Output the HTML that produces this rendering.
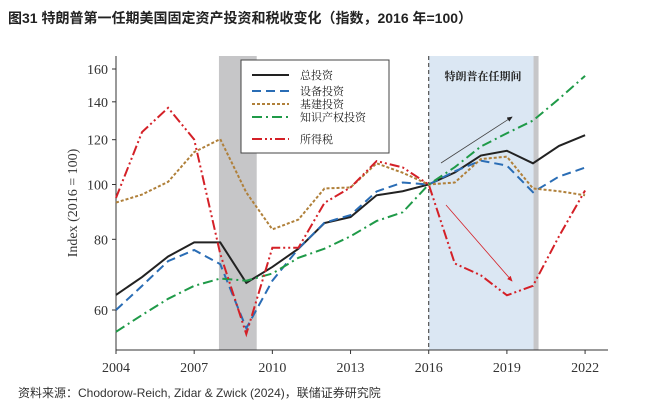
<!DOCTYPE html>
<html><head><meta charset="utf-8"><style>
body{margin:0;background:#fff;width:655px;height:411px;overflow:hidden;font-family:"Liberation Sans","Noto Sans CJK SC",sans-serif}
#title{position:absolute;left:8px;top:8px;font-size:14px;font-weight:bold;color:#222}
#src{position:absolute;left:18px;top:384px;font-size:12px;color:#333}
svg{position:absolute;left:0;top:0}
</style></head><body>
<div id="title">图31 特朗普第一任期美国固定资产投资和税收变化（指数，2016 年=100）</div>
<svg id="chart" width="655" height="411"></svg>
<div id="src">资料来源：Chodorow-Reich, Zidar &amp; Zwick (2024)，联储证券研究院</div>
<script>
const years=[2004,2005,2006,2007,2008,2009,2010,2011,2012,2013,2014,2015,2016,2017,2018,2019,2020,2021,2022];
const total=[63.8,68.6,74.6,79,79,67,71.5,77,85.5,87.6,95.7,97.3,100,105,112.5,114.7,109,117,122.2];
const equip=[60,66.2,73.2,76.6,72.3,55.7,67.6,77,85.6,88.3,97.2,100.8,100,105.5,110.2,108,96.9,103.3,107.1];
const infra=[92.9,96,101.1,114.1,120.3,96.8,83.3,86.7,98.4,98.8,109,104.9,100,100.8,110.9,112,98.4,97.3,95.7];
const ip=[54.9,58.8,62.8,66.2,68.2,67.6,69.6,74.2,77,81,86.2,89.3,100,107.3,116.7,123.2,129.7,141.7,155.6];
const tax=[94.7,123.8,136.6,120.1,75.4,54.4,77.3,77.3,92.8,98.8,110,107.2,100,72.5,69.1,63.7,66.2,81,97.6];
const yTicks=[60,80,100,120,140,160];
const xTicks=[2004,2007,2010,2013,2016,2019,2022];
const NS="http://www.w3.org/2000/svg",svg=document.getElementById('chart');
const X=y=>116+(y-2004)*26.06;
const Y=v=>310-Math.log(v/60)*245.7;
function el(t,a,p){const e=document.createElementNS(NS,t);for(const k in a)e.setAttribute(k,a[k]);(p||svg).appendChild(e);return e;}
let r=el('rect',{x:X(2007.95),y:56,width:X(2009.4)-X(2007.95),height:294,fill:'#c6c6c8'});

r=el('rect',{x:X(2016),y:56,width:X(2020.1)-X(2016),height:294,fill:'#dbe7f3'});

r=el('rect',{x:X(2020.1)-2,y:56,width:5,height:294,fill:'#c6c6c8'});

let l=el('line',{x1:X(2016),x2:X(2016),y1:56,y2:350,stroke:'#333','stroke-dasharray':'4,3','stroke-width':1});

let t=el('text',{x:483,y:80,'font-size':11,'text-anchor':'middle',fill:'#222','font-weight':'bold','font-family':'"Noto Serif CJK SC",serif'});t.textContent='特朗普在任期间';

// axes
l=el('line',{x1:116,x2:116,y1:56,y2:350,stroke:'#333'});
l=el('line',{x1:116,x2:608,y1:350,y2:350,stroke:'#333'});
yTicks.forEach(v=>{let tk=el('line',{x1:112,x2:116,y1:Y(v),y2:Y(v),stroke:'#333'});
let tx=el('text',{x:108,y:Y(v)+5,'font-size':14,'text-anchor':'end',fill:'#333','font-family':'"Liberation Serif",serif'});tx.textContent=v;});
xTicks.forEach(v=>{let tk=el('line',{x1:X(v),x2:X(v),y1:350,y2:354,stroke:'#333'});
let tx=el('text',{x:X(v),y:372,'font-size':14,'text-anchor':'middle',fill:'#333','font-family':'"Liberation Serif",serif'});tx.textContent=v;});
t=el('text',{x:0,y:0,'font-size':14,'text-anchor':'middle',fill:'#333','font-family':'"Liberation Serif",serif',transform:'translate(77,203) rotate(-90)'});t.textContent='Index (2016 = 100)';

const series=[[total,'#222','','total-investment-line'],[equip,'#2a6db5','9,5','equipment-investment-line'],[infra,'#b0803a','3,2','structures-investment-line'],[ip,'#1f9a48','10,4,2,4','ip-investment-line'],[tax,'#d42027','10,3,2,3,2,3','income-tax-line']];
series.forEach(s=>{let p=el('polyline',{points:years.map((y,i)=>X(y)+','+Y(s[0][i])).join(' '),fill:'none',stroke:s[1],'stroke-width':2,'stroke-dasharray':s[2]});
});
// arrows
el('defs',{}).innerHTML='<marker id="ab" markerWidth="8" markerHeight="8" refX="6" refY="3" orient="auto"><path d="M0,0L7,3L0,6z" fill="#222"/></marker><marker id="ar" markerWidth="8" markerHeight="8" refX="6" refY="3" orient="auto"><path d="M0,0L7,3L0,6z" fill="#d42027"/></marker>';
l=el('line',{x1:441,y1:163,x2:512,y2:117,stroke:'#444','stroke-width':0.8,'marker-end':'url(#ab)'});
l=el('line',{x1:446,y1:205,x2:512,y2:281,stroke:'#d42027','stroke-width':0.8,'marker-end':'url(#ar)'});
// legend
const lg=el('g',{});
el('rect',{x:241,y:60,width:148,height:93,fill:'#fff',stroke:'#444'},lg);
const names=['总投资','设备投资','基建投资','知识产权投资','所得税'];const ly=[75,91,104,117,139];
series.forEach((s,i)=>{const g=el('g',{},lg);
el('line',{x1:252,x2:289,y1:ly[i],y2:ly[i],stroke:s[1],'stroke-width':2,'stroke-dasharray':s[2]},g);
const tt=el('text',{x:300,y:ly[i]+4,'font-size':11,fill:'#222','font-family':'"Noto Serif CJK SC",serif'},g);tt.textContent=names[i];});
</script>
</body></html>
